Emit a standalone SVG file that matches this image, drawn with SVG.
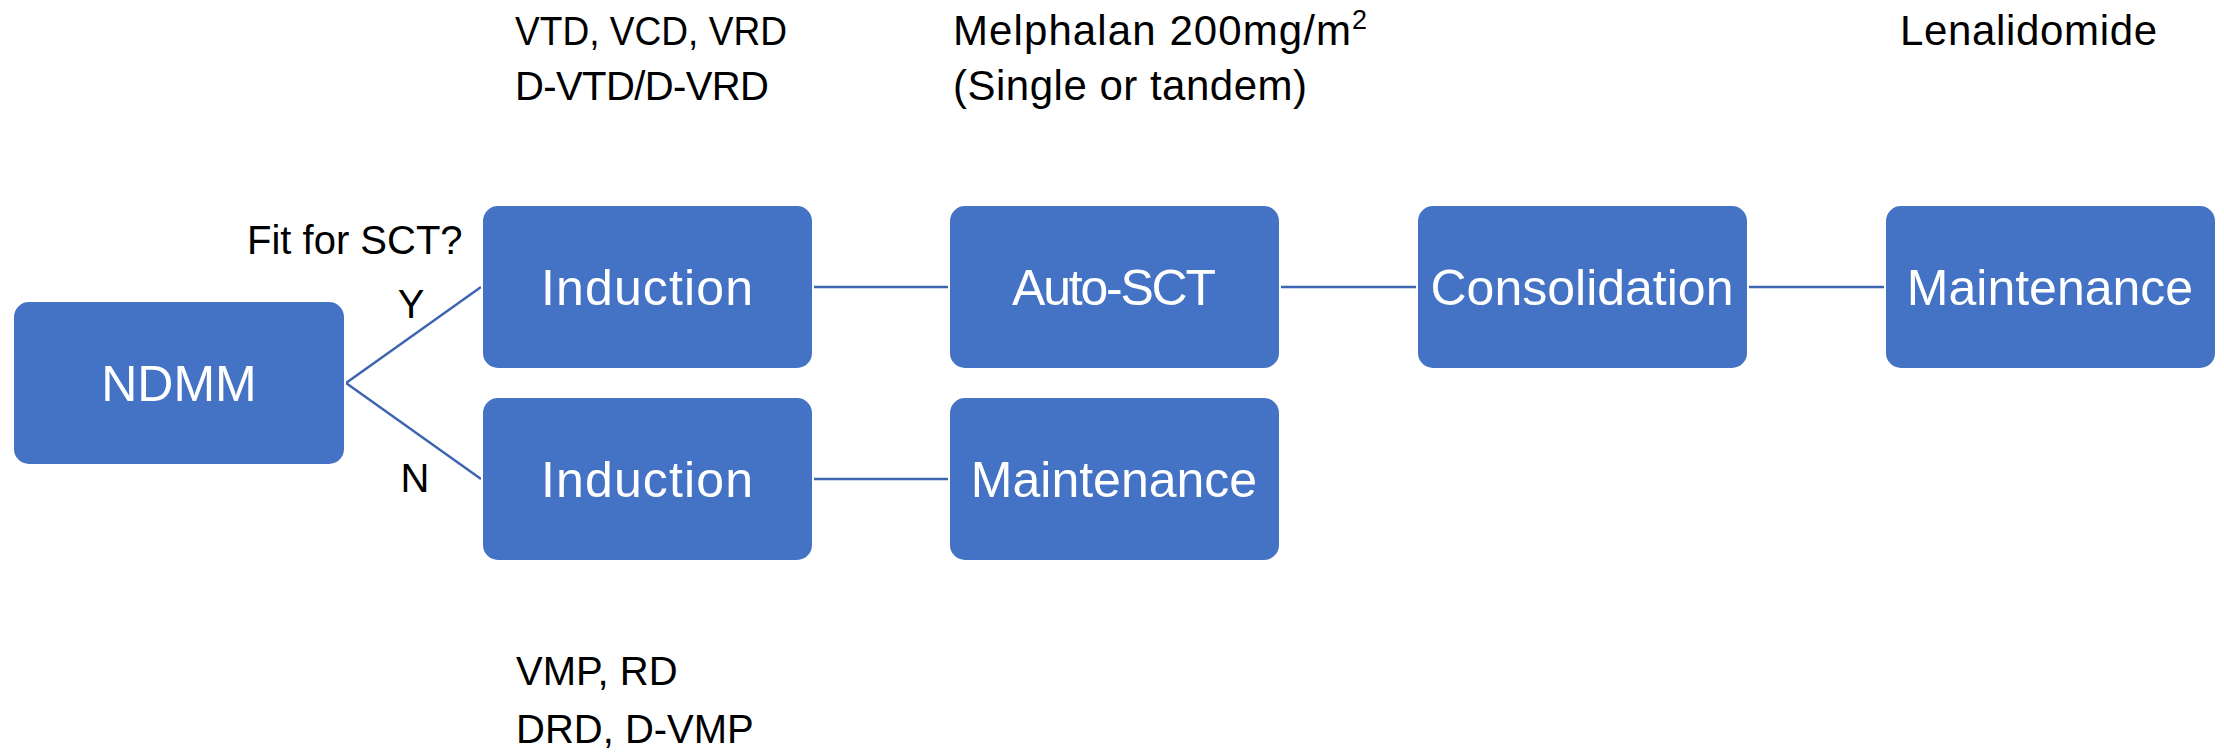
<svg xmlns="http://www.w3.org/2000/svg" width="2224" height="752" viewBox="0 0 2224 752">
  <style>
    .box { fill: #4472C4; stroke: #FFFFFF; stroke-width: 2; }
    .label { fill: #FFFFFF; font-family: "Liberation Sans", Arial, sans-serif; font-size: 50px; text-anchor: middle; }
    .note { fill: #000000; font-family: "Liberation Sans", Arial, sans-serif; font-size: 40px; }
    .note-lg { font-size: 42px; }
    .link { stroke: #3E66B0; stroke-width: 2.5; fill: none; }
  </style>
  <rect width="2224" height="752" fill="#FFFFFF"/>

  <!-- connectors -->
  <g id="connectors">
    <line class="link" x1="346" y1="383" x2="481" y2="287"/>
    <line class="link" x1="346" y1="383" x2="481" y2="479"/>
    <line class="link" x1="813" y1="287" x2="949" y2="287"/>
    <line class="link" x1="1280" y1="287" x2="1417" y2="287"/>
    <line class="link" x1="1748" y1="287" x2="1885" y2="287"/>
    <line class="link" x1="813" y1="479" x2="949" y2="479"/>
  </g>

  <!-- process steps -->
  <g id="ndmm">
    <rect class="box" x="13" y="301" width="332" height="164" rx="16"/>
    <text class="label" x="179" y="401">NDMM</text>
  </g>
  <g id="induction-sct">
    <rect class="box" x="482" y="205" width="331" height="164" rx="16"/>
    <text class="label" x="647" y="305" textLength="212">Induction</text>
  </g>
  <g id="auto-sct">
    <rect class="box" x="949" y="205" width="331" height="164" rx="16"/>
    <text class="label" x="1114" y="305" textLength="204">Auto-SCT</text>
  </g>
  <g id="consolidation">
    <rect class="box" x="1417" y="205" width="331" height="164" rx="16"/>
    <text class="label" x="1582" y="305">Consolidation</text>
  </g>
  <g id="maintenance-sct">
    <rect class="box" x="1885" y="205" width="331" height="164" rx="16"/>
    <text class="label" x="2050" y="305">Maintenance</text>
  </g>
  <g id="induction-nosct">
    <rect class="box" x="482" y="397" width="331" height="164" rx="16"/>
    <text class="label" x="647" y="497" textLength="212">Induction</text>
  </g>
  <g id="maintenance-nosct">
    <rect class="box" x="949" y="397" width="331" height="164" rx="16"/>
    <text class="label" x="1114" y="497">Maintenance</text>
  </g>

  <!-- annotations -->
  <g id="annotations">
    <text class="note" x="247" y="254">Fit for SCT?</text>
    <text class="note" x="411" y="318" text-anchor="middle">Y</text>
    <text class="note" x="415" y="492" text-anchor="middle">N</text>
    <text class="note" x="515" y="45" textLength="272" lengthAdjust="spacingAndGlyphs">VTD, VCD, VRD</text>
    <text class="note" x="515" y="100" textLength="254">D-VTD/D-VRD</text>
    <text class="note note-lg" x="953" y="45"><tspan textLength="398">Melphalan 200mg/m</tspan><tspan font-size="27px" dy="-16">2</tspan></text>
    <text class="note note-lg" x="953" y="100" textLength="354">(Single or tandem)</text>
    <text class="note note-lg" x="1900" y="45" textLength="257">Lenalidomide</text>
    <text class="note" x="516" y="685">VMP, RD</text>
    <text class="note" x="516" y="743">DRD, D-VMP</text>
  </g>
</svg>
